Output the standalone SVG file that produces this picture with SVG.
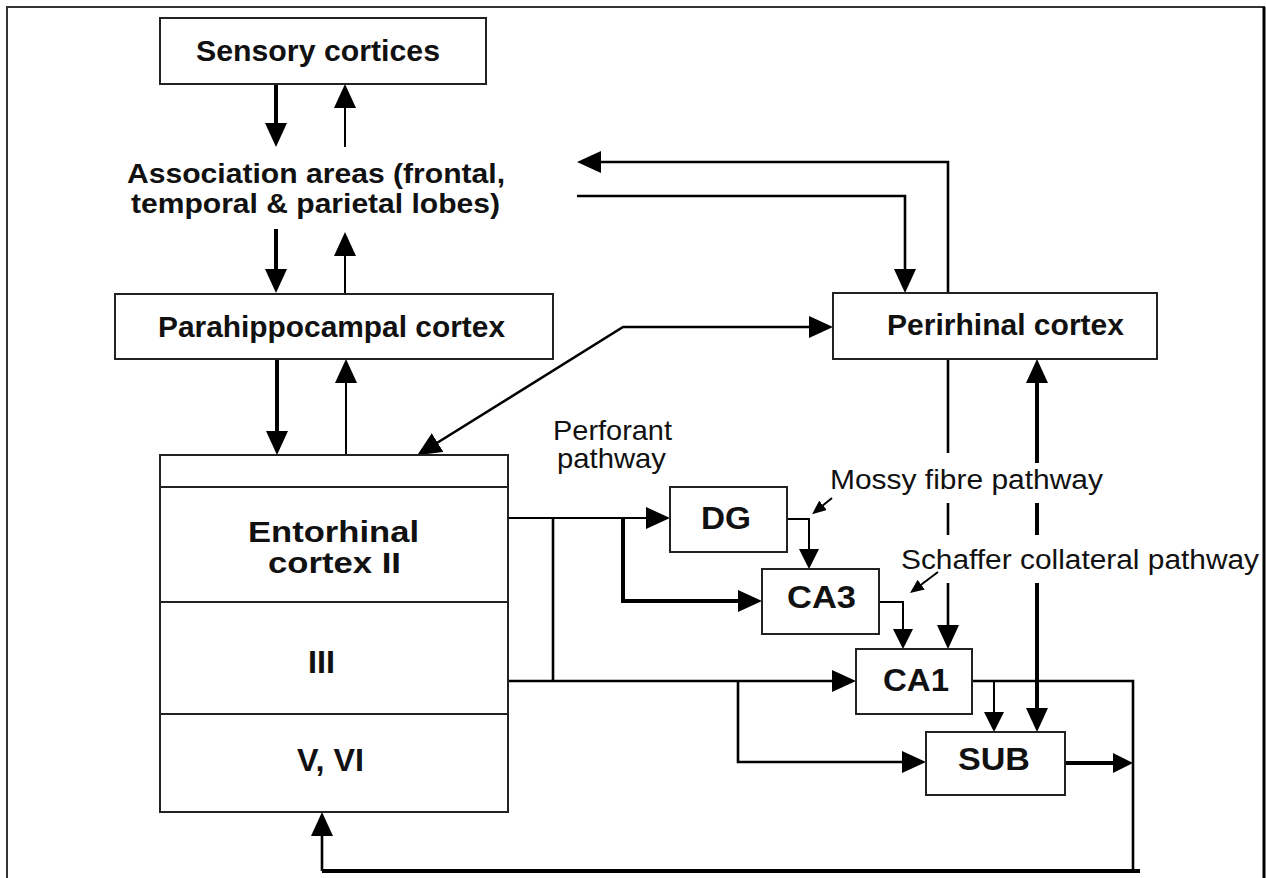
<svg xmlns="http://www.w3.org/2000/svg" width="1266" height="878" viewBox="0 0 1266 878">
<style>
.box{fill:#fff;stroke:#222;stroke-width:2}
.b{font-family:"Liberation Sans",Arial,sans-serif;font-weight:bold;fill:#111}
.r{font-family:"Liberation Sans",Arial,sans-serif;fill:#111}
.c{fill:none;stroke:#000;stroke-linejoin:miter}
.t1{stroke-width:2}
.t2{stroke-width:2.6}
.t3{stroke-width:4}
</style>
<defs>
<marker id="a" viewBox="0 0 24 22" refX="16" refY="11" markerWidth="24" markerHeight="22" markerUnits="userSpaceOnUse" orient="auto-start-reverse"><path d="M0,0 L24,11 L0,22 z" fill="#000"/></marker>
<marker id="s" viewBox="0 0 20 20" refX="12" refY="10" markerWidth="20" markerHeight="20" markerUnits="userSpaceOnUse" orient="auto-start-reverse"><path d="M0,0 L20,10 L0,20 z" fill="#000"/></marker>
<marker id="m" viewBox="0 0 14 12" refX="9" refY="6" markerWidth="14" markerHeight="12" markerUnits="userSpaceOnUse" orient="auto"><path d="M0,0 L14,6 L0,12 z" fill="#000"/></marker>
</defs>
<rect width="1266" height="878" fill="#fff"/>
<g id="frame">
<path d="M7,878 V7 H1264 V878" fill="none" stroke="#333" stroke-width="2"/>
<path d="M1264,7 V878" stroke="#000" stroke-width="3"/>
</g>
<g id="connectors">
<path class="c t3" d="M276,84 V139" marker-end="url(#a)"/>
<path class="c t1" d="M345,147 V92" marker-end="url(#a)"/>
<path class="c t3" d="M276,229 V285" marker-end="url(#a)"/>
<path class="c t1" d="M345,293 V240" marker-end="url(#a)"/>
<path class="c t3" d="M277,359 V447" marker-end="url(#a)"/>
<path class="c t1" d="M346,455 V367" marker-end="url(#a)"/>
<path class="c t2" d="M948,293 V162 H585" marker-end="url(#a)"/>
<path class="c t2" d="M577,196 H905 V285" marker-end="url(#a)"/>
<path class="c t2" d="M424,451 L623,327 H825" marker-start="url(#a)" marker-end="url(#a)"/>
<path class="c t1" d="M508,518 H662" marker-end="url(#a)"/>
<path class="c t2" d="M553,518 V681"/>
<path class="c t3" d="M623,518 V601 H754" marker-end="url(#a)"/>
<path class="c t1" d="M787,519 H809 V561" marker-end="url(#s)"/>
<path class="c t1" d="M832,498 L816,511" marker-end="url(#m)"/>
<path class="c t1" d="M879,602 H903 V641" marker-end="url(#s)"/>
<path class="c t1" d="M938,572 L914,590" marker-end="url(#m)"/>
<path class="c t2" d="M948,359 V453 M948,503 V535"/>
<path class="c t2" d="M948,583 V641" marker-end="url(#a)"/>
<path class="c t3" d="M1037,367 V463" marker-start="url(#a)"/>
<path class="c t3" d="M1037,503 V535"/>
<path class="c t3" d="M1037,583 V724" marker-end="url(#a)"/>
<path class="c t2" d="M508,681 H848" marker-end="url(#a)"/>
<path class="c t2" d="M738,681 V762 H918" marker-end="url(#a)"/>
<path class="c t2" d="M972,681 H1133 V871"/>
<path class="c t1" d="M994,681 V724" marker-end="url(#s)"/>
<path class="c t3" d="M1065,763 H1125" marker-end="url(#s)"/>
<path class="c t3" d="M1140,871 H322"/>
<path class="c t2" d="M322,871 V820" marker-end="url(#a)"/>
</g>
<g id="sensory">
<rect class="box" x="160" y="18" width="326" height="66"/>
<text class="b" x="196" y="61" font-size="30" textLength="244" lengthAdjust="spacingAndGlyphs">Sensory cortices</text>
</g>
<g id="association">
<text class="b" x="127" y="183" font-size="28" textLength="378" lengthAdjust="spacingAndGlyphs">Association areas (frontal,</text>
<text class="b" x="131" y="213" font-size="28" textLength="369" lengthAdjust="spacingAndGlyphs">temporal &amp; parietal lobes)</text>
</g>
<g id="parahippocampal">
<rect class="box" x="115" y="294" width="438" height="65"/>
<text class="b" x="158" y="337" font-size="29" textLength="347" lengthAdjust="spacingAndGlyphs">Parahippocampal cortex</text>
</g>
<g id="perirhinal">
<rect class="box" x="833" y="293" width="324" height="66"/>
<text class="b" x="887" y="335" font-size="29" textLength="237" lengthAdjust="spacingAndGlyphs">Perirhinal cortex</text>
</g>
<g id="entorhinal">
<rect class="box" x="160" y="455" width="348" height="357"/>
<path d="M160,487 H508 M160,602 H508 M160,714 H508" stroke="#222" stroke-width="2"/>
<text class="b" x="248" y="542" font-size="30" textLength="171" lengthAdjust="spacingAndGlyphs">Entorhinal</text>
<text class="b" x="268" y="573" font-size="30" textLength="133" lengthAdjust="spacingAndGlyphs">cortex II</text>
<text class="b" x="308" y="673" font-size="32" textLength="27" lengthAdjust="spacingAndGlyphs">III</text>
<text class="b" x="297" y="771" font-size="32" textLength="67" lengthAdjust="spacingAndGlyphs">V, VI</text>
</g>
<g id="perforant">
<text class="r" x="553" y="440" font-size="28" textLength="119" lengthAdjust="spacingAndGlyphs">Perforant</text>
<text class="r" x="557" y="468" font-size="28" textLength="109" lengthAdjust="spacingAndGlyphs">pathway</text>
</g>
<g id="dg">
<rect class="box" x="670" y="487" width="117" height="65"/>
<text class="b" x="701" y="529" font-size="31" textLength="50" lengthAdjust="spacingAndGlyphs">DG</text>
</g>
<g id="ca3">
<rect class="box" x="762" y="569" width="117" height="65"/>
<text class="b" x="787" y="608" font-size="31" textLength="69" lengthAdjust="spacingAndGlyphs">CA3</text>
</g>
<g id="ca1">
<rect class="box" x="856" y="649" width="116" height="65"/>
<text class="b" x="883" y="691" font-size="31" textLength="66" lengthAdjust="spacingAndGlyphs">CA1</text>
</g>
<g id="sub">
<rect class="box" x="926" y="732" width="139" height="63"/>
<text class="b" x="958" y="770" font-size="31" textLength="72" lengthAdjust="spacingAndGlyphs">SUB</text>
</g>
<g id="labels">
<text class="r" x="830" y="489" font-size="27" textLength="273" lengthAdjust="spacingAndGlyphs">Mossy fibre pathway</text>
<text class="r" x="901" y="569" font-size="27" textLength="358" lengthAdjust="spacingAndGlyphs">Schaffer collateral pathway</text>
</g>
</svg>
